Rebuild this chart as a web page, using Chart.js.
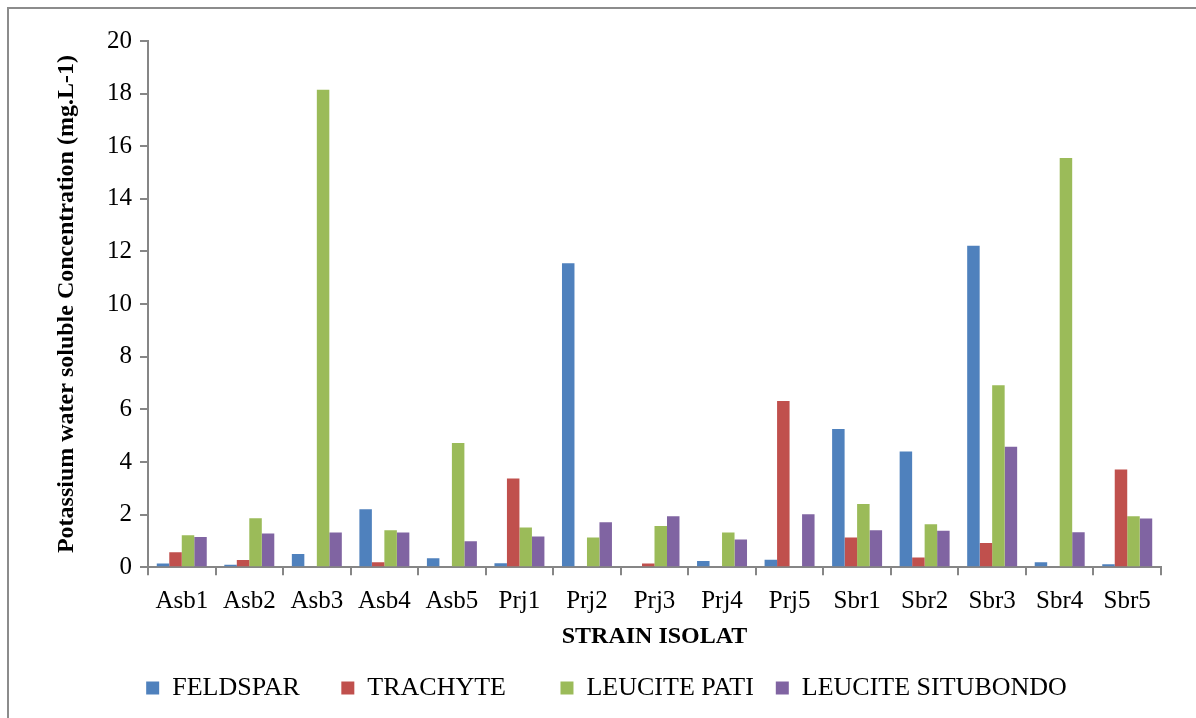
<!DOCTYPE html>
<html>
<head>
<meta charset="utf-8">
<script src="https://cdn.jsdelivr.net/npm/chart.js@4/dist/chart.umd.min.js"></script>
<style>
  html, body { margin: 0; padding: 0; background: #fff; }
  #wrap { position: relative; width: 1196px; height: 718px; }
  #frame { position: absolute; left: 7px; top: 7px; right: 0; bottom: 0; border-top: 2px solid #8c8c8c; border-left: 2px solid #8c8c8c; }
  canvas { position: absolute; left: 0; top: 0; }
</style>
</head>
<body>
<div id="wrap">
  <div id="frame"></div>
  <canvas id="chart" width="1196" height="718"></canvas>
</div>
<script>
// categories and series
const strains = ['Asb1', 'Asb2', 'Asb3', 'Asb4', 'Asb5', 'Prj1', 'Prj2', 'Prj3', 'Prj4', 'Prj5', 'Sbr1', 'Sbr2', 'Sbr3', 'Sbr4', 'Sbr5'];
const feldspar   = [0.14, 0.09, 0.50, 2.20, 0.34, 0.15, 11.55, 0, 0.24, 0.28, 5.25, 4.40, 12.22, 0.19, 0.11];
const trachyte   = [0.57, 0.27, 0, 0.19, 0, 3.37, 0, 0.14, 0, 6.32, 1.13, 0.37, 0.92, 0, 3.71];
const leucitePati = [1.21, 1.86, 18.15, 1.40, 4.72, 1.51, 1.13, 1.57, 1.32, 0, 2.40, 1.63, 6.92, 15.55, 1.94];
const leuciteSitubondo = [1.15, 1.28, 1.32, 1.32, 0.99, 1.17, 1.71, 1.94, 1.05, 2.01, 1.40, 1.39, 4.58, 1.33, 1.85];
const yTicks = [0, 2, 4, 6, 8, 10, 12, 14, 16, 18, 20];

const serif = "'Liberation Serif', 'Times New Roman', serif";
const axisGray = '#868686';
Chart.defaults.font.family = serif;
Chart.defaults.color = '#000';

// extra spacing after each legend entry (non-breaking spaces)
const legendGaps = [3, 5, 0, 0];

new Chart(document.getElementById('chart'), {
  type: 'bar',
  data: {
    labels: strains,
    datasets: [
      { label: 'FELDSPAR', data: feldspar, backgroundColor: '#4F81BD' },
      { label: 'TRACHYTE', data: trachyte, backgroundColor: '#C0504D' },
      { label: 'LEUCITE PATI', data: leucitePati, backgroundColor: '#9BBB59' },
      { label: 'LEUCITE SITUBONDO', data: leuciteSitubondo, backgroundColor: '#8064A2' }
    ]
  },
  options: {
    responsive: false,
    animation: false,
    devicePixelRatio: 1,
    datasets: { bar: { categoryPercentage: 0.74, barPercentage: 1.0 } },
    layout: { padding: { left: 52, right: 35, top: 41, bottom: 7 } },
    plugins: {
      tooltip: { enabled: false },
      legend: {
        position: 'bottom',
        labels: {
          color: '#000',
          font: { family: serif, size: 26 },
          boxWidth: 13,
          boxHeight: 13,
          padding: 22,
          generateLabels: (chart) => {
            const items = Chart.defaults.plugins.legend.labels.generateLabels(chart);
            items.forEach((it, i) => { it.text += '\u00a0'.repeat(legendGaps[i]); });
            return items;
          }
        }
      }
    },
    scales: {
      x: {
        grid: { display: true, drawOnChartArea: false, color: axisGray, tickLength: 8, lineWidth: 2, offset: true },
        border: { color: axisGray, width: 2 },
        ticks: { color: '#000', font: { family: serif, size: 25 }, padding: 11, maxRotation: 0, autoSkip: false },
        title: { display: true, text: 'STRAIN ISOLAT', color: '#000', font: { family: serif, size: 24, weight: 'bold' }, padding: { top: -5, bottom: 2 } }
      },
      y: {
        min: 0,
        max: 20,
        afterBuildTicks: (scale) => { scale.ticks = yTicks.map(v => ({ value: v })); },
        afterFit: (scale) => { scale.width = 96; },
        grid: { display: true, drawOnChartArea: false, color: axisGray, tickLength: 8, lineWidth: 2 },
        border: { color: axisGray, width: 2 },
        ticks: { color: '#000', font: { family: serif, size: 25 }, padding: 8 },
        title: { display: true, text: 'Potassium water soluble Concentration (mg.L-1)', color: '#000', font: { family: serif, size: 24, weight: 'bold' }, padding: 0 }
      }
    }
  }
});
</script>
</body>
</html>
